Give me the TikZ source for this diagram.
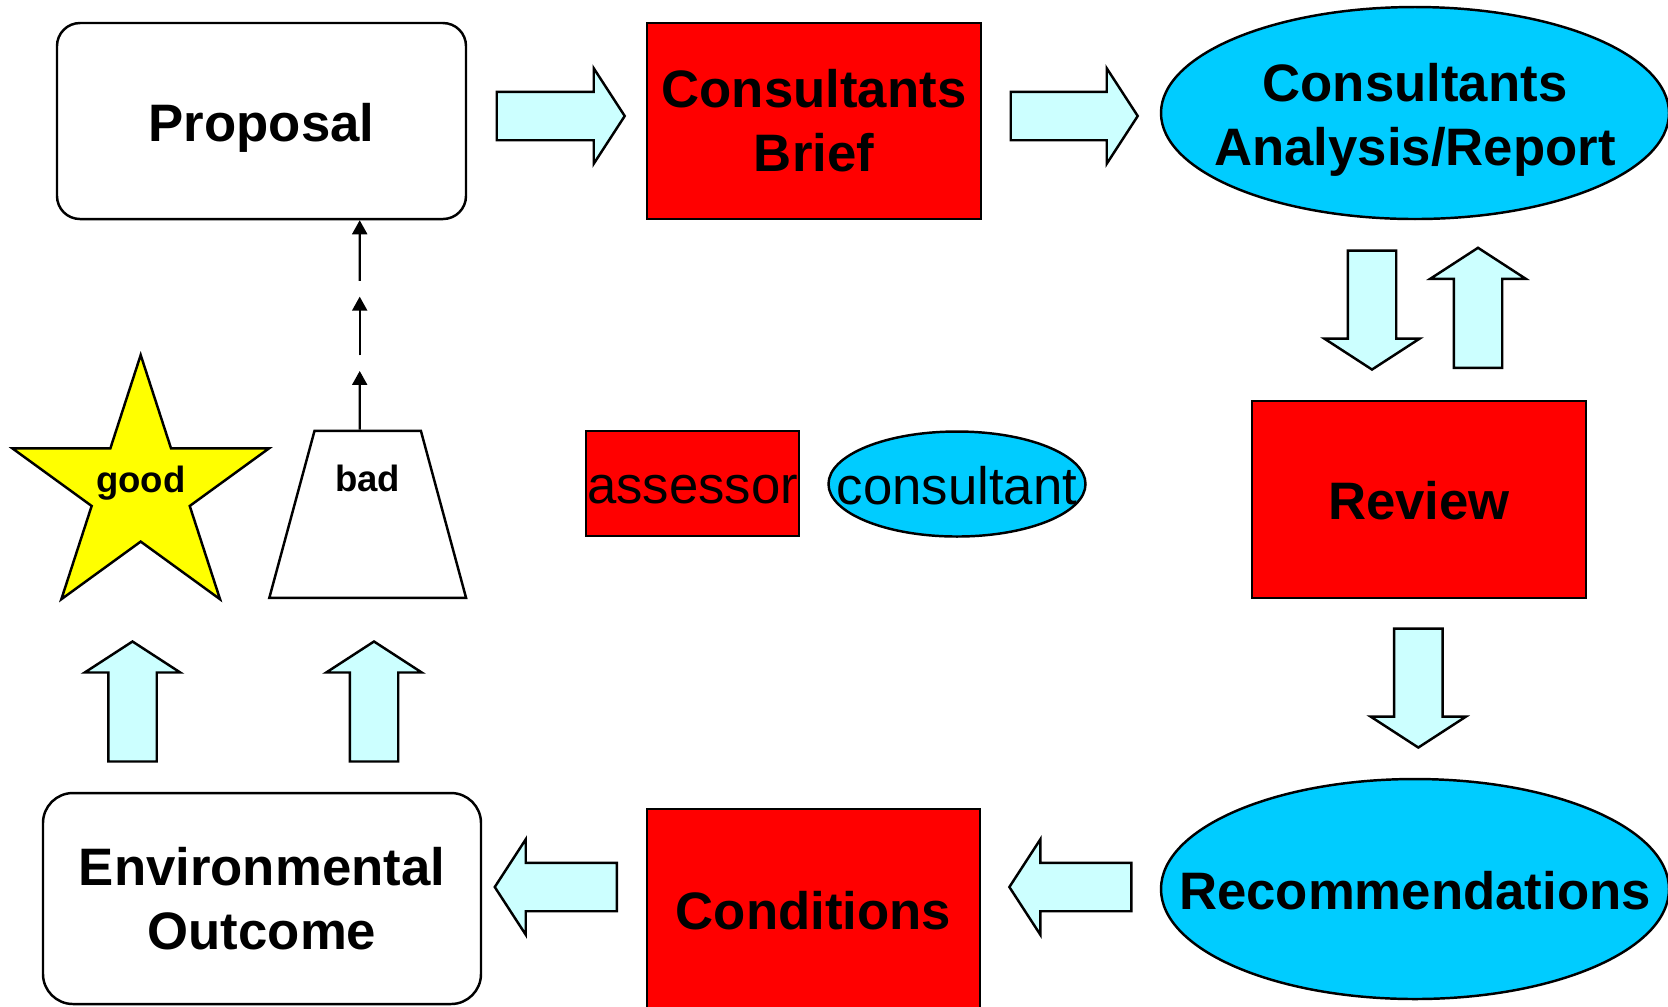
\documentclass[tikz,border=0pt]{standalone}
\usepackage{fontspec}
\setmainfont{Liberation Sans}
\usepackage{tikz}
\usetikzlibrary{calc}
\usetikzlibrary{arrows.meta}
\usetikzlibrary{shapes.geometric}
\usetikzlibrary{shapes.arrows}
\usepackage{color}
\definecolor{boxred}{RGB}{255, 0, 0}
\definecolor{skyblue}{RGB}{0, 204, 255}
\definecolor{paleaqua}{RGB}{204, 255, 255}
\definecolor{staryellow}{RGB}{255, 255, 0}

\tikzset{
  bigfont/.style={font=\fontsize{15}{18.2}\selectfont\bfseries, align=center},
  smallfont/.style={font=\fontsize{10.4}{12.5}\selectfont\bfseries},
  keyfont/.style={font=\fontsize{15}{18.2}\selectfont},
  oneline/.style={text height=0.4cm, text depth=0pt},
  roundbox/.style={rectangle, draw=black, fill=white, line width=0.7pt, inner sep=0pt},
  redbox/.style={rectangle, draw=black, fill=boxred, line width=0.7pt, inner sep=0pt},
  blueoval/.style={ellipse, draw=black, fill=skyblue, line width=0.7pt, inner sep=0pt},
  blockarrow/.style={single arrow, draw=black, fill=paleaqua, line width=0.7pt, anchor=tail,
      inner xsep=0pt, inner ysep=0.23cm, single arrow head extend=0.235cm,
      single arrow tip angle=114},
  dasharrow/.style={line width=0.6pt, -{Triangle[length=0.14cm, width=0.15cm]}}
}

\begin{document}
\begin{tikzpicture}
            \useasboundingbox (0.00, 0.00) rectangle (16.68, -10.06);
            % Top row
            \node[roundbox, rounded corners=0.23cm, bigfont, oneline, minimum width=4.09cm, minimum height=1.96cm] (proposal) at ( 2.615,-1.210) {Proposal};
            \node[redbox, bigfont, minimum width=3.34cm, minimum height=1.96cm]                                 (brief)    at ( 8.140,-1.210) {Consultants\\Brief};
            \node[blueoval, minimum width=5.08cm, minimum height=2.12cm]                                      (analysis) at (14.150,-1.130) {};
            \node[bigfont, yshift=-0.07cm]                                                                    (analysistext) at (analysis) {Consultants\\Analysis/Report};
            % Right column
            \node[redbox, bigfont, oneline, minimum width=3.34cm, minimum height=1.97cm]                        (review)   at (14.190,-4.995) {Review};
            \node[blueoval, minimum width=5.08cm, minimum height=2.20cm]                                      (recommend) at (14.150,-8.890) {};
            \node[bigfont, oneline]                                                                           (recommendtext) at (recommend) {Recommendations};
            % Bottom row
            \node[redbox, bigfont, oneline, minimum width=3.33cm, minimum height=2.01cm]                        (conditions) at ( 8.135,-9.095) {Conditions};
            \node[roundbox, rounded corners=0.30cm, bigfont, minimum width=4.38cm, minimum height=2.11cm]       (outcome)  at ( 2.620,-8.985) {Environmental\\Outcome};
            % Good / bad outcome
            \node[star, star points=5, star point ratio=2.618, draw=black, fill=staryellow, line width=0.7pt,
                  minimum size=2.70cm, inner sep=0pt]                                                         (good)     at ( 1.407,-4.900) {};
            \node[smallfont, text height=0.25cm, text depth=0.20cm]                                           (goodtext) at (good) {good};
            \node[trapezium, trapezium left angle=73.8, trapezium right angle=73.8, trapezium stretches=true,
                  draw=black, fill=white, line width=0.7pt, minimum width=1.97cm, minimum height=1.67cm,
                  inner sep=0pt, smallfont, text height=0.25cm, text depth=0.70cm]                              (bad)      at ( 3.677,-5.143) {bad};
            % Key
            \node[redbox, keyfont, oneline, minimum width=2.13cm, minimum height=1.05cm]                        (assessor) at ( 6.925,-4.835) {assessor};
            \node[blueoval, minimum width=2.57cm, minimum height=1.05cm]                                      (consultant) at ( 9.570,-4.840) {};
            \node[keyfont, oneline]                                                                           (consultanttext) at (consultant) {consultant};
            % Block arrows (placed by their tails)
            \node[blockarrow, minimum height=1.28cm]              (arrowa) at ( 4.955,-1.160) {};
            \node[blockarrow, minimum height=1.27cm]              (arrowb) at (10.095,-1.160) {};
            \node[blockarrow, minimum height=1.19cm, rotate=-90]  (arrowc) at (13.720,-2.493) {};
            \node[blockarrow, minimum height=1.20cm, rotate=90]   (arrowd) at (14.780,-3.690) {};
            \node[blockarrow, minimum height=1.19cm, rotate=-90]  (arrowe) at (14.183,-6.273) {};
            \node[blockarrow, minimum height=1.22cm, rotate=180]  (arrowf) at (11.326,-8.870) {};
            \node[blockarrow, minimum height=1.22cm, rotate=180]  (arrowg) at ( 6.180,-8.870) {};
            \node[blockarrow, minimum height=1.20cm, rotate=90]   (arrowh) at ( 1.325,-7.627) {};
            \node[blockarrow, minimum height=1.20cm, rotate=90]   (arrowi) at ( 3.740,-7.627) {};
            % Broken arrow from bad back to proposal
            \coordinate (riseA) at ([xshift=-0.08cm]bad.north);
            \coordinate (riseB) at (riseA |- proposal.south);
            \draw[dasharrow] (riseA) -- ($(riseA)!0.280!(riseB)$);
            \draw[dasharrow] ($(riseA)!0.355!(riseB)$) -- ($(riseA)!0.635!(riseB)$);
            \draw[dasharrow] ($(riseA)!0.710!(riseB)$) -- (riseB);
\end{tikzpicture}
\end{document}
